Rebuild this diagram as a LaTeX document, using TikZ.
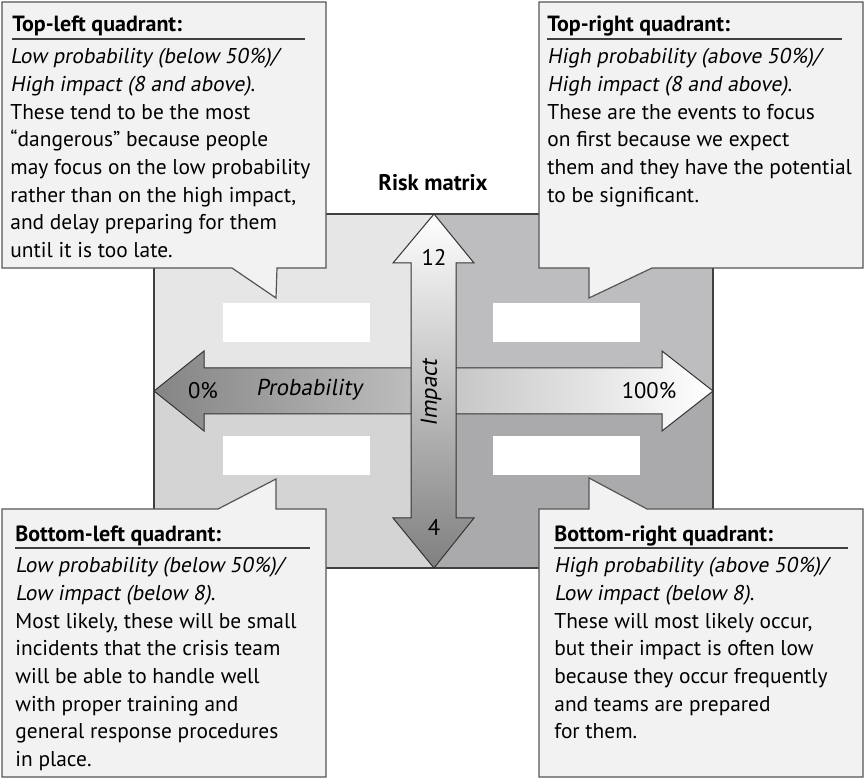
\documentclass[tikz,border=0pt]{standalone}
\usepackage{fontspec}
\setmainfont{PT Sans}[ItalicFont={PT Sans}, ItalicFeatures={FakeSlant=0.18}]
\usepackage{tikz}
\usetikzlibrary{calc,shadings}
\definecolor{boxfill}{HTML}{F2F2F2}
\definecolor{boxline}{HTML}{555555}
\definecolor{qtl}{HTML}{E6E6E6}
\definecolor{qbl}{HTML}{D4D4D4}
\definecolor{qtr}{HTML}{BDBDBF}
\definecolor{qbr}{HTML}{AAAAAC}
\tikzset{
  callout/.style={draw=boxline, fill=boxfill, line width=0.6pt, line join=miter},
  heading/.style={font=\fontsize{11}{13}\selectfont\bfseries, anchor=base west, inner sep=0pt},
  bodytext/.style={font=\fontsize{10.7}{13.85}\selectfont, align=left, anchor=north west, inner sep=0pt},
  headrule/.style={draw=black!75, line width=0.6pt},
  blank/.style={fill=white, draw=none},
  bigarrow/.style={draw=black!80, line width=0.5pt, line join=miter},
  axislabel/.style={font=\fontsize{11.3}{13}\selectfont, inner sep=0pt}
}

\begin{document}
\begin{tikzpicture}[x=0.5pt,y=-0.5pt]
  \useasboundingbox (0,0) rectangle (866,779);
  % quadrants of the matrix
  \fill[qtl] (154,214) rectangle (434,391);
  \fill[qbl] (154,391) rectangle (434,568);
  \fill[qtr] (434,214) rectangle (713,391);
  \fill[qbr] (434,391) rectangle (713,568);
  \draw[black!75, line width=0.6pt] (154,214) rectangle (713,568);
  \foreach \x/\y in {223/303, 493/303, 223/436, 493/436}{
    \fill[blank] (\x,\y) rectangle ++(147,39);
  }
  % probability axis
  \draw[bigarrow, left color=black!48, right color=white]
    (154,391) -- (204,351) -- (204,368) -- (662,368) -- (662,351) -- (713,391)
    -- (662,431) -- (662,414) -- (204,414) -- (204,431) -- cycle;
  % impact axis
  \draw[bigarrow, top color=white, bottom color=black!50]
    (434,214) -- (474,263) -- (456,263) -- (456,518) -- (474,518) -- (434,568)
    -- (393,518) -- (411,518) -- (411,263) -- (393,263) -- cycle;
  \node[axislabel] (hi) at (434,257) {12};
  \node[axislabel] (lo) at (434,527) {4};
  \node[axislabel] (zero) at (203,391) {0\%};
  \node[axislabel] (full) at (649,391) {100\%};
  \node[axislabel, font=\fontsize{11.5}{13}\selectfont\itshape] (prob) at (309,390) {Probability};
  \node[axislabel, font=\fontsize{11.5}{13}\selectfont\itshape, rotate=90] (imp) at (431,393) {Impact};
  \node[font=\fontsize{11.3}{13}\selectfont\bfseries] (title) at (433,183) {Risk matrix};

  % callouts
  \draw[callout] (2,2) -- (326,2) -- (326,268) -- (277,268) -- (276,298) -- (232,268) -- (2,268) -- cycle;
  \draw[callout] (539,2) -- (863,2) -- (863,268) -- (652,268) -- (589,298) -- (589,268) -- (539,268) -- cycle;
  \draw[callout] (2,509) -- (218,509) -- (276,479) -- (276,509) -- (326,509) -- (326,777) -- (2,777) -- cycle;
  \draw[callout] (539,509) -- (589,509) -- (589,478) -- (647,509) -- (863,509) -- (863,777) -- (539,777) -- cycle;

  \node[heading] (tlhead) at (12,32) {Top-left quadrant:};
  \draw[headrule] (12,39) -- (305,39);
  \node[bodytext] (tltext) at (10,48) {\textit{Low probability (below 50\%)/}\\
    \textit{High impact (8 and above)}.\\
    These tend to be the most\\
    “dangerous” because people\\
    may focus on the low probability\\
    rather than on the high impact,\\
    and delay preparing for them\\
    until it is too late.};

  \node[heading] (trhead) at (547,32) {Top-right quadrant:};
  \draw[headrule] (547,39) -- (842,39);
  \node[bodytext] (trtext) at (547,48) {\textit{High probability (above 50\%)/}\\
    \textit{High impact (8 and above)}.\\
    These are the events to focus\\
    on first because we expect\\
    them and they have the potential\\
    to be significant.};

  \node[heading] (blhead) at (15,542) {Bottom-left quadrant:};
  \draw[headrule] (15,548) -- (310,548);
  \node[bodytext] (bltext) at (15,557) {\textit{Low probability (below 50\%)/}\\
    \textit{Low impact (below 8)}.\\
    Most likely, these will be small\\
    incidents that the crisis team\\
    will be able to handle well\\
    with proper training and\\
    general response procedures\\
    in place.};

  \node[heading] (brhead) at (554,542) {Bottom-right quadrant:};
  \draw[headrule] (554,548) -- (848,548);
  \node[bodytext] (brtext) at (554,557) {\textit{High probability (above 50\%)/}\\
    \textit{Low impact (below 8)}.\\
    These will most likely occur,\\
    but their impact is often low\\
    because they occur frequently\\
    and teams are prepared\\
    for them.};
\end{tikzpicture}
\end{document}
